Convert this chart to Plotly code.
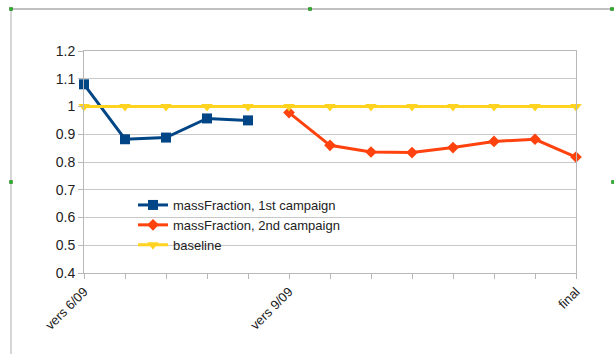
import plotly.graph_objects as go

# Category positions along the x axis and their tick labels
categories = list(range(13))
tick_labels = ["vers 6/09", "", "", "", "", "vers 9/09", "", "", "", "", "", "", "final"]

# Series values
first_x = [0, 1, 2, 3, 4]
first_campaign = [1.08, 0.882, 0.888, 0.957, 0.95]

second_x = [5, 6, 7, 8, 9, 10, 11, 12]
second_campaign = [0.978, 0.86, 0.836, 0.834, 0.852, 0.874, 0.882, 0.818]

baseline = [1.0] * 13

BLUE = "#004586"
ORANGE = "#ff420e"
YELLOW = "#ffd320"
GRID = "#c8c8c8"
FONT = "Liberation Sans, Arial, sans-serif"

fig = go.Figure()
fig.add_trace(go.Scatter(
    x=first_x, y=first_campaign, mode="lines+markers",
    name="massFraction, 1st campaign",
    line=dict(color=BLUE, width=3),
    marker=dict(symbol="square", size=10, color=BLUE),
    cliponaxis=False,
))
fig.add_trace(go.Scatter(
    x=second_x, y=second_campaign, mode="lines+markers",
    name="massFraction, 2nd campaign",
    line=dict(color=ORANGE, width=3),
    marker=dict(symbol="diamond", size=9, color=ORANGE),
    cliponaxis=False,
))
fig.add_trace(go.Scatter(
    x=categories, y=baseline, mode="lines+markers",
    name="baseline",
    line=dict(color=YELLOW, width=3),
    marker=dict(symbol="triangle-down", size=10, color=YELLOW),
    cliponaxis=False,
))

W, H = 614, 354
L, R, T, B = 84, 38, 51, 81
pw, ph = W - L - R, H - T - B


def px(x):
    return (x - L) / pw


def py(y):
    return (H - B - y) / ph


shapes = [
    # outer frame (top and left edges)
    dict(type="line", xref="paper", yref="paper", x0=px(10), x1=px(614), y0=py(9), y1=py(9),
         line=dict(color="#c0c0c0", width=2)),
    dict(type="line", xref="paper", yref="paper", x0=px(11), x1=px(11), y0=py(9), y1=py(354),
         line=dict(color="#c8c8c8", width=1.5)),
]
# selection handles on the frame
for hx, hy in [(11, 9), (310, 9), (612, 9), (11, 182), (613, 182)]:
    shapes.append(dict(type="rect", xref="paper", yref="paper",
                       x0=px(hx - 1.5), x1=px(hx + 1.5), y0=py(hy - 1.5), y1=py(hy + 1.5),
                       fillcolor="#22bb22", line=dict(color="#116611", width=0.5)))

fig.update_layout(
    width=W, height=H,
    margin=dict(l=L, r=R, t=T, b=B),
    paper_bgcolor="white", plot_bgcolor="white",
    font=dict(family=FONT, color="#222222"),
    showlegend=True,
    legend=dict(
        x=px(133), y=py(190), xanchor="left", yanchor="top",
        bgcolor="rgba(0,0,0,0)", font=dict(size=13, family=FONT),
        tracegroupgap=0, itemwidth=30,
    ),
    shapes=shapes,
    xaxis=dict(
        range=[0, 12], tickmode="array", tickvals=categories, ticktext=tick_labels,
        tickangle=-45, tickfont=dict(size=13, family=FONT),
        showgrid=False, zeroline=False,
        showline=True, linecolor="#b8b8b8", linewidth=1, mirror=True,
        ticks="outside", ticklen=5, tickcolor="#b8b8b8",
    ),
    yaxis=dict(
        range=[0.4, 1.2], tickmode="array",
        tickvals=[0.4, 0.5, 0.6, 0.7, 0.8, 0.9, 1.0, 1.1, 1.2],
        ticktext=["0.4", "0.5", "0.6", "0.7", "0.8", "0.9", "1", "1.1", "1.2"],
        tickfont=dict(size=14, family=FONT),
        showgrid=True, gridcolor=GRID, gridwidth=1, zeroline=False,
        showline=True, linecolor="#b8b8b8", linewidth=1, mirror=True,
        ticks="outside", ticklen=5, tickcolor="#b8b8b8",
    ),
)

fig.write_html("out.html")
